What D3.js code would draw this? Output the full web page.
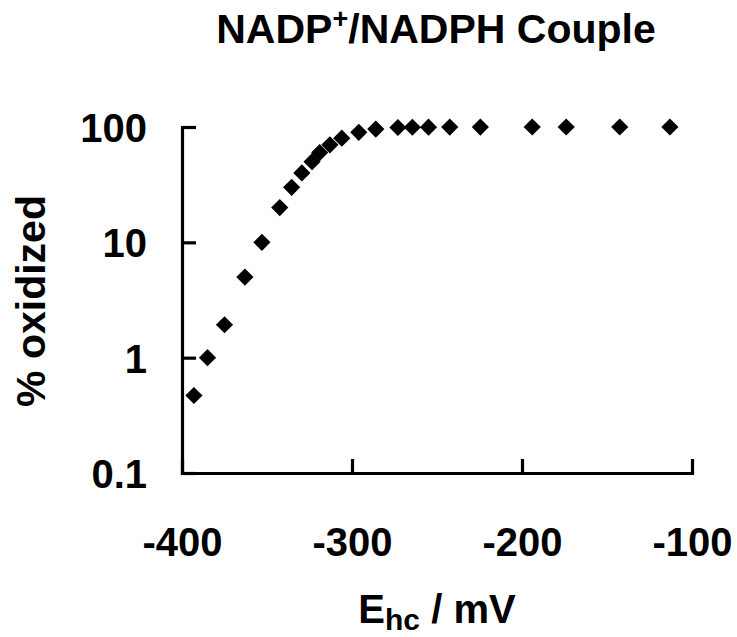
<!DOCTYPE html>
<html>
<head>
<meta charset="utf-8">
<script src="https://cdn.jsdelivr.net/npm/d3@7"></script>
<style>
  html, body { margin: 0; padding: 0; background: #fff; }
  svg { display: block; }
  text { font-family: Arial, "Liberation Sans", sans-serif; font-weight: bold; fill: #000; }
</style>
</head>
<body>
<script>
// ---- data ----
const potential = [-393, -385, -375, -363, -353, -342.5, -335.5, -329.5, -323.5, -319, -313, -306, -296, -286, -273, -264.5, -255, -242.5, -224.5, -194, -174, -142.5, -113];
const oxidized  = [0.47, 1, 1.93, 5, 10, 20, 30, 40, 50, 60, 70, 80, 90, 96, 99, 99.5, 99.7, 99.8, 99.9, 100, 100, 100, 100];
const xTicks = [-400, -300, -200, -100];
const xTickLabels = ["-400", "-300", "-200", "-100"];
const yTicks = [0.1, 1, 10, 100];
const yTickLabels = ["0.1", "1", "10", "100"];

const W = 737, H = 637;
const svg = d3.select("body").append("svg").attr("width", W).attr("height", H);

const x = d3.scaleLinear().domain([-400, -100]).range([182, 692]);
const y = d3.scaleLog().domain([0.1, 100]).range([473, 127]);

// axes
const xAxis = d3.axisBottom(x).tickValues(xTicks).tickSizeInner(-14).tickSizeOuter(0).tickPadding(55)
  .tickFormat((d, i) => xTickLabels[i]);
const yAxis = d3.axisLeft(y).tickValues(yTicks).tickSizeInner(-14).tickSizeOuter(0).tickPadding(35)
  .tickFormat((d, i) => yTickLabels[i]);

const gx = svg.append("g").attr("transform", `translate(0,${y(0.1)})`).call(xAxis);
const gy = svg.append("g").attr("transform", `translate(${x(-400)},0)`).call(yAxis);

[gx, gy].forEach(g => {
  g.selectAll("path.domain").attr("stroke", "#000").attr("stroke-width", 3.2).attr("stroke-linecap", "square");
  g.selectAll(".tick line").attr("stroke", "#000").attr("stroke-width", 3.2);
  g.selectAll(".tick text").attr("font-size", 40).attr("font-weight", "bold")
    .attr("font-family", 'Arial, "Liberation Sans", sans-serif').attr("fill", "#000");
});
gy.selectAll(".tick text").attr("dy", "0.36em");

// markers
const diamond = {
  draw(ctx, size) {
    const r = Math.sqrt(size / 2);
    ctx.moveTo(0, -r); ctx.lineTo(r, 0); ctx.lineTo(0, r); ctx.lineTo(-r, 0); ctx.closePath();
  }
};
const sym = d3.symbol().type(diamond).size(2 * 8.6 * 8.6);
svg.append("g").selectAll("path").data(potential.map((e, i) => [e, oxidized[i]]))
  .join("path")
  .attr("transform", d => `translate(${x(d[0])},${y(d[1])})`)
  .attr("d", sym)
  .attr("fill", "#000");

// title
const title = svg.append("text").attr("x", 436).attr("y", 43).attr("text-anchor", "middle").attr("font-size", 41);
title.append("tspan").text("NADP");
title.append("tspan").text("+").attr("font-size", 27).attr("dy", -15);
title.append("tspan").text("/NADPH Couple").attr("dy", 15);

// x label
const xl = svg.append("text").attr("x", 437).attr("y", 623).attr("text-anchor", "middle").attr("font-size", 40);
xl.append("tspan").text("E");
xl.append("tspan").text("hc").attr("font-size", 30).attr("dy", 7);
xl.append("tspan").text(" / mV").attr("dy", -7);

// y label
svg.append("text").attr("transform", "translate(45,301) rotate(-90)").attr("text-anchor", "middle")
  .attr("font-size", 41).text("% oxidized");
</script>
</body>
</html>
